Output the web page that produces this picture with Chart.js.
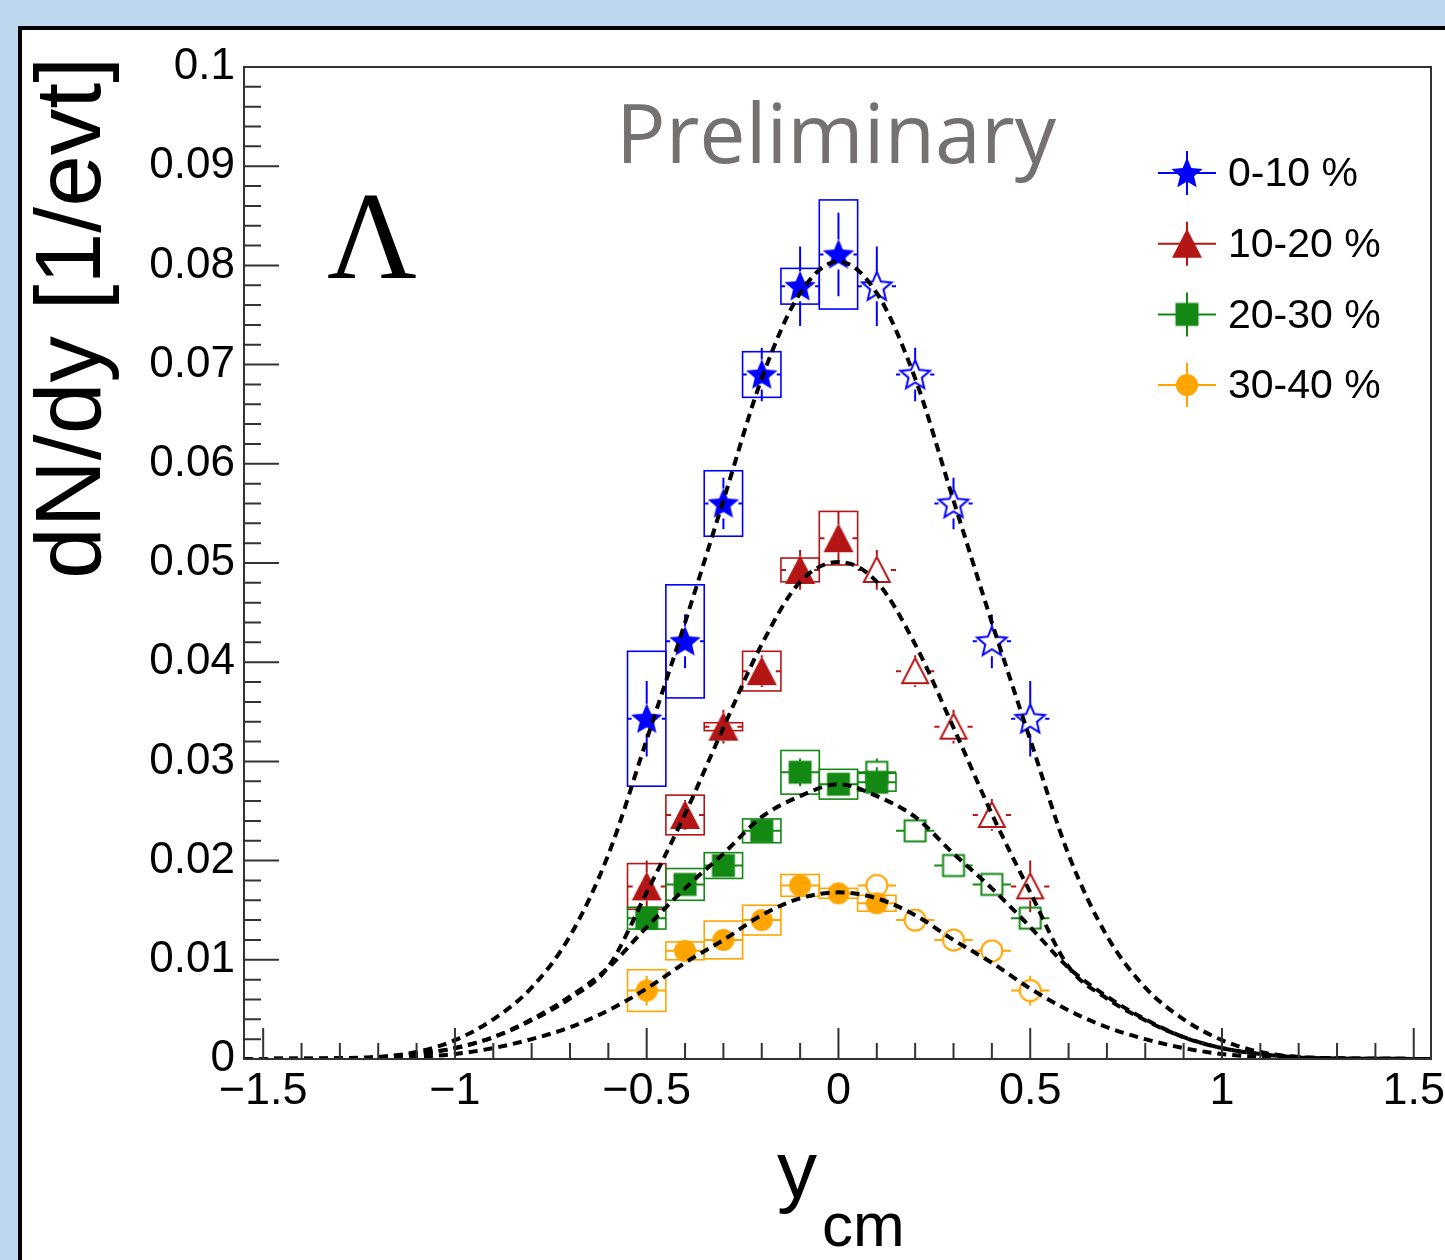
<!DOCTYPE html>
<html lang="en">
<head>
<meta charset="UTF-8">
<title>Lambda dN/dy vs y_cm</title>
<script src="https://cdn.jsdelivr.net/npm/chart.js"></script>
<style>
    html, body {
        margin: 0;
        padding: 0;
    }

    body {
        background-color: #bdd7ee;
        width: 1445px;
        height: 1260px;
        overflow: hidden;
        position: relative;
    }

    #panel {
        position: absolute;
        left: 18px;
        top: 26px;
        width: 1500px;
        height: 1300px;
        background: #ffffff;
        border-left: 4px solid #000;
        border-top: 4px solid #000;
    }

    canvas {
        position: absolute;
        left: 0;
        top: 0;
    }
</style>
</head>
<body>
<div id="panel"></div>
<canvas id="rapChart" width="1445" height="1260"></canvas>

<script>
// ---- data ----
const centralities = ['0-10 %', '10-20 %', '20-30 %', '30-40 %'];

const xTickValues = [-1.5, -1, -0.5, 0, 0.5, 1, 1.5];
const xTickLabels = ['\u22121.5', '\u22121', '\u22120.5', '0', '0.5', '1', '1.5'];
const yTickValues = [0, 0.01, 0.02, 0.03, 0.04, 0.05, 0.06, 0.07, 0.08, 0.09, 0.1];
const yTickLabels = ['0', '0.01', '0.02', '0.03', '0.04', '0.05', '0.06', '0.07', '0.08', '0.09', '0.1'];

const xErrHalf = 0.05;   // bin half width

// measured (full symbols)
const xMeas6 = [-0.5, -0.4, -0.3, -0.2, -0.1, 0];
const xMeas7 = [-0.5, -0.4, -0.3, -0.2, -0.1, 0, 0.1];
// reflected (open symbols)
const xRefl = [0.1, 0.2, 0.3, 0.4, 0.5];

const y010 = [0.0343, 0.0421, 0.0560, 0.0690, 0.0779, 0.0811];
const stat010 = [0.0038, 0.0027, 0.0026, 0.0027, 0.0040, 0.0042];
const sys010 = [0.0068, 0.0057, 0.0033, 0.0023, 0.0018, 0.0055];
const yRefl010 = [0.0779, 0.0690, 0.0560, 0.0421, 0.0343];
const statRefl010 = [0.0040, 0.0027, 0.0026, 0.0027, 0.0038];

const y1020 = [0.0174, 0.0246, 0.0335, 0.0391, 0.0493, 0.0525];
const stat1020 = [0.0026, 0.0015, 0.0017, 0.0016, 0.0020, 0.0027];
const sys1020 = [0.0023, 0.0020, 0.0004, 0.0020, 0.0012, 0.0027];
const yRefl1020 = [0.0493, 0.0391, 0.0335, 0.0246, 0.0174];
const statRefl1020 = [0.0020, 0.0016, 0.0017, 0.0016, 0.0026];

const y2030 = [0.0142, 0.0176, 0.0195, 0.0230, 0.0289, 0.0277, 0.0279];
const stat2030 = [0.0008, 0.0008, 0.0008, 0.0008, 0.0014, 0.0008, 0.0015];
const sys2030 = [0.0011, 0.0016, 0.0013, 0.0012, 0.0022, 0.0015, 0.0009];
const yRefl2030 = [0.0289, 0.0230, 0.0195, 0.0176, 0.0142];
const statRefl2030 = [0.0014, 0.0008, 0.0008, 0.0008, 0.0008];

const y3040 = [0.0069, 0.0109, 0.0120, 0.0140, 0.0175, 0.0167, 0.0157];
const stat3040 = [0.0015, 0.0008, 0.0008, 0.0008, 0.0008, 0.0008, 0.0008];
const sys3040 = [0.0021, 0.0009, 0.0019, 0.0015, 0.0011, 0.0005, 0.0008];
const yRefl3040 = [0.0175, 0.0140, 0.0120, 0.0109, 0.0069];
const statRefl3040 = [0.0008, 0.0008, 0.0008, 0.0008, 0.0015];

// dashed fit curves
const xFit = [-1.55, -1.5, -1.4, -1.3, -1.2, -1.1, -1.0, -0.9, -0.8, -0.7, -0.6, -0.5, -0.4, -0.3, -0.2, -0.1, 0,
    0.1, 0.2, 0.3, 0.4, 0.5, 0.6, 0.7, 0.8, 0.9, 1.0, 1.1, 1.2, 1.3, 1.4, 1.5, 1.55];
const fit010 = [0, 0.00001, 0.00002, 0.00006, 0.0002, 0.0007, 0.0019, 0.0040, 0.0072, 0.0124, 0.0206, 0.0322, 0.0440, 0.0563, 0.0686, 0.0772, 0.0804,
    0.0772, 0.0686, 0.0563, 0.0440, 0.0322, 0.0206, 0.0124, 0.0072, 0.0040, 0.0019, 0.0007, 0.0002, 0.00006, 0.00002, 0.00001, 0];
const fit1020 = [0, 0.00001, 0.00002, 0.00005, 0.00015, 0.0005, 0.0011, 0.0022, 0.0039, 0.0061, 0.0093, 0.0168, 0.0247, 0.0334, 0.0418, 0.0481, 0.0501,
    0.0481, 0.0418, 0.0334, 0.0247, 0.0168, 0.0093, 0.0061, 0.0039, 0.0022, 0.0011, 0.0005, 0.00015, 0.00005, 0.00002, 0.00001, 0];
const fit2030 = [0, 0.00001, 0.00003, 0.00007, 0.0002, 0.0005, 0.0011, 0.0022, 0.0040, 0.0063, 0.0092, 0.0133, 0.0172, 0.0207, 0.0244, 0.0265, 0.0277,
    0.0265, 0.0244, 0.0207, 0.0172, 0.0133, 0.0092, 0.0063, 0.0040, 0.0022, 0.0011, 0.0005, 0.0002, 0.00007, 0.00003, 0.00001, 0];
const fit3040 = [0, 0.00001, 0.00002, 0.00004, 0.0001, 0.0002, 0.0005, 0.0011, 0.0020, 0.0032, 0.0049, 0.0071, 0.0097, 0.0120, 0.0145, 0.0162, 0.0168,
    0.0162, 0.0145, 0.0120, 0.0097, 0.0071, 0.0049, 0.0032, 0.0020, 0.0011, 0.0005, 0.0002, 0.0001, 0.00004, 0.00002, 0.00001, 0];

// ---- styling ----
const colors = ['#0000ff', '#b41616', '#138813', '#ffa500'];
const shapes = ['star', 'triangle', 'square', 'circle'];
const gaps = [15, 14, 11, 10];
const FONT = "'Liberation Sans', Arial, sans-serif";

function makeMarker(shape, color, filled) {
    const c = document.createElement('canvas');
    c.width = 40;
    c.height = 40;
    const g = c.getContext('2d');
    g.translate(20, 20);
    g.beginPath();
    if (shape === 'star') {
        const R = filled ? 16.5 : 15.5;
        const r = R * 0.45;
        for (let i = 0; i < 10; i++) {
            const rr = i % 2 === 0 ? R : r;
            const a = -Math.PI / 2 + i * Math.PI / 5;
            if (i === 0) g.moveTo(rr * Math.cos(a), rr * Math.sin(a) + 1);
            else g.lineTo(rr * Math.cos(a), rr * Math.sin(a) + 1);
        }
        g.closePath();
    } else if (shape === 'triangle') {
        const s = filled ? 15 : 13;
        g.moveTo(0, -s);
        g.lineTo(s, s * 0.93);
        g.lineTo(-s, s * 0.93);
        g.closePath();
    } else if (shape === 'square') {
        const s = filled ? 11.5 : 10.5;
        g.rect(-s, -s, 2 * s, 2 * s);
    } else {
        g.arc(0, 0, filled ? 11 : 10.5, 0, Math.PI * 2);
    }
    if (filled) {
        g.fillStyle = color;
        g.fill();
    } else {
        g.strokeStyle = color;
        g.lineWidth = 2;
        g.stroke();
    }
    return c;
}

const fullMarkers = shapes.map((s, i) => makeMarker(s, colors[i], true));
const openMarkers = shapes.map((s, i) => makeMarker(s, colors[i], false));

const series = [
    { x: xMeas6, y: y010, stat: stat010, sys: sys010, yr: yRefl010, statr: statRefl010 },
    { x: xMeas6, y: y1020, stat: stat1020, sys: sys1020, yr: yRefl1020, statr: statRefl1020 },
    { x: xMeas7, y: y2030, stat: stat2030, sys: sys2030, yr: yRefl2030, statr: statRefl2030 },
    { x: xMeas7, y: y3040, stat: stat3040, sys: sys3040, yr: yRefl3040, statr: statRefl3040 },
];
const fits = [fit010, fit1020, fit2030, fit3040];

const toPts = (xs, ys) => xs.map((x, i) => ({ x: x, y: ys[i] }));

const datasets = [];
fits.forEach((f, i) => {
    datasets.push({
        type: 'line',
        label: 'fit ' + centralities[i],
        data: toPts(xFit, f),
        borderColor: '#000',
        borderWidth: 4,
        borderDash: [9, 6],
        pointRadius: 0,
        fill: false,
        cubicInterpolationMode: 'monotone',
        order: 0,
    });
});
series.forEach((s, i) => {
    datasets.push({
        label: centralities[i],
        data: toPts(s.x, s.y),
        showLine: false,
        pointStyle: fullMarkers[i],
        pointRadius: 12,
        order: 1,
    });
    datasets.push({
        label: centralities[i] + ' reflected',
        data: toPts(xRefl, s.yr),
        showLine: false,
        pointStyle: openMarkers[i],
        pointRadius: 12,
        order: 1,
    });
});

function drawErrorBars(ctx, xs, ys, errs, color, gap, sc) {
    ctx.save();
    ctx.strokeStyle = color;
    ctx.lineWidth = 2;
    ctx.beginPath();
    xs.forEach((xv, i) => {
        const px = sc.x.getPixelForValue(xv);
        const py = sc.y.getPixelForValue(ys[i]);
        const xl = sc.x.getPixelForValue(xv - xErrHalf);
        const xr = sc.x.getPixelForValue(xv + xErrHalf);
        const yt = sc.y.getPixelForValue(ys[i] + errs[i]);
        const yb = sc.y.getPixelForValue(ys[i] - errs[i]);
        if (px - xl > gap) {
            ctx.moveTo(xl, py); ctx.lineTo(px - gap, py);
            ctx.moveTo(px + gap, py); ctx.lineTo(xr, py);
        }
        if (py - yt > gap) {
            ctx.moveTo(px, yt); ctx.lineTo(px, py - gap);
            ctx.moveTo(px, py + gap); ctx.lineTo(px, yb);
        }
    });
    ctx.stroke();
    ctx.restore();
}

const rootStyle = {
    id: 'rootStyle',
    beforeDatasetsDraw(chart) {
        const { ctx, scales } = chart;
        series.forEach((s, i) => {
            // systematic boxes
            ctx.save();
            ctx.strokeStyle = colors[i];
            ctx.lineWidth = 1.6;
            s.x.forEach((xv, k) => {
                const x0 = scales.x.getPixelForValue(xv - xErrHalf);
                const x1 = scales.x.getPixelForValue(xv + xErrHalf);
                const y0 = scales.y.getPixelForValue(s.y[k] + s.sys[k]);
                const y1 = scales.y.getPixelForValue(s.y[k] - s.sys[k]);
                ctx.strokeRect(x0, y0, x1 - x0, y1 - y0);
            });
            ctx.restore();
            drawErrorBars(ctx, s.x, s.y, s.stat, colors[i], gaps[i], scales);
            drawErrorBars(ctx, xRefl, s.yr, s.statr, colors[i], gaps[i], scales);
        });
    },
    afterDraw(chart) {
        const { ctx, chartArea: a, scales } = chart;
        ctx.save();
        // frame
        ctx.strokeStyle = '#333';
        ctx.lineWidth = 2;
        ctx.strokeRect(a.left, a.top, a.right - a.left, a.bottom - a.top);

        // ticks drawn inside the frame, ROOT style
        ctx.beginPath();
        for (let k = -15; k <= 15; k++) {
            const v = k / 10;
            const px = scales.x.getPixelForValue(v);
            const len = k % 5 === 0 ? 31 : 16;
            ctx.moveTo(px, a.bottom);
            ctx.lineTo(px, a.bottom - len);
        }
        for (let k = 0; k <= 50; k++) {
            const py = scales.y.getPixelForValue(k * 0.002);
            const len = k % 5 === 0 ? 35 : 17;
            ctx.moveTo(a.left, py);
            ctx.lineTo(a.left + len, py);
        }
        ctx.stroke();

        // axis titles
        ctx.fillStyle = '#000';
        ctx.font = '93px ' + FONT;
        ctx.textAlign = 'center';
        ctx.textBaseline = 'alphabetic';
        ctx.save();
        ctx.translate(100, 318);
        ctx.rotate(-Math.PI / 2);
        ctx.fillText('dN/dy [1/evt]', 0, 0);
        ctx.restore();

        ctx.textAlign = 'left';
        ctx.font = '80px ' + FONT;
        ctx.fillText('y', 777, 1197);
        ctx.font = '62px ' + FONT;
        ctx.fillText('cm', 822, 1246);

        // Lambda label
        ctx.font = "124px 'Liberation Serif', 'Times New Roman', serif";
        ctx.fillText('\u039B', 327, 278);

        // Preliminary
        ctx.fillStyle = '#767171';
        ctx.font = "100px 'Open Sans', 'Noto Sans', sans-serif";
        const w = ctx.measureText('Preliminary').width;
        ctx.font = (100 * 440 / w).toFixed(1) + "px 'Open Sans', 'Noto Sans', sans-serif";
        ctx.fillText('Preliminary', 616, 163);

        // legend
        ctx.font = '41px ' + FONT;
        ctx.textBaseline = 'middle';
        centralities.forEach((label, i) => {
            const cy = 173 + i * 70.7;
            const cx = 1187;
            ctx.strokeStyle = colors[i];
            ctx.lineWidth = 2;
            ctx.beginPath();
            ctx.moveTo(cx - 29, cy); ctx.lineTo(cx + 29, cy);
            ctx.moveTo(cx, cy - 22); ctx.lineTo(cx, cy + 22);
            ctx.stroke();
            const m = fullMarkers[i];
            ctx.drawImage(m, cx - m.width / 2, cy - m.height / 2);
            ctx.fillStyle = '#000';
            ctx.fillText(label, 1228, cy + 2);
        });
        ctx.restore();
    }
};

const chart = new Chart(document.getElementById('rapChart').getContext('2d'), {
    type: 'scatter',
    data: { datasets: datasets },
    options: {
        responsive: false,
        devicePixelRatio: 1,
        animation: false,
        layout: { padding: { left: 0, top: 67, right: 14, bottom: 0 } },
        plugins: {
            legend: { display: false },
            tooltip: { enabled: false },
        },
        scales: {
            x: {
                type: 'linear',
                min: -1.55,
                max: 1.545,
                grid: { display: false, drawTicks: false },
                border: { display: false },
                afterBuildTicks: (s) => { s.ticks = xTickValues.map(v => ({ value: v })); },
                afterFit: (s) => {
                    s.height = 201;
                    s.paddingLeft = 0;
                    s.paddingRight = 0;
                },
                ticks: {
                    autoSkip: false,
                    maxRotation: 0,
                    padding: 6,
                    color: '#000',
                    font: { family: FONT, size: 45 },
                    callback: (v, i) => xTickLabels[i],
                },
            },
            y: {
                type: 'linear',
                min: 0,
                max: 0.1,
                grid: { display: false, drawTicks: false },
                border: { display: false },
                afterBuildTicks: (s) => { s.ticks = yTickValues.map(v => ({ value: v })); },
                afterFit: (s) => {
                    s.width = 244;
                    s.paddingTop = 0;
                    s.paddingBottom = 0;
                },
                ticks: {
                    autoSkip: false,
                    padding: 9,
                    color: '#000',
                    font: { family: FONT, size: 44 },
                    callback: (v, i) => yTickLabels[i],
                },
            },
        },
    },
    plugins: [rootStyle],
});
</script>
</body>
</html>
